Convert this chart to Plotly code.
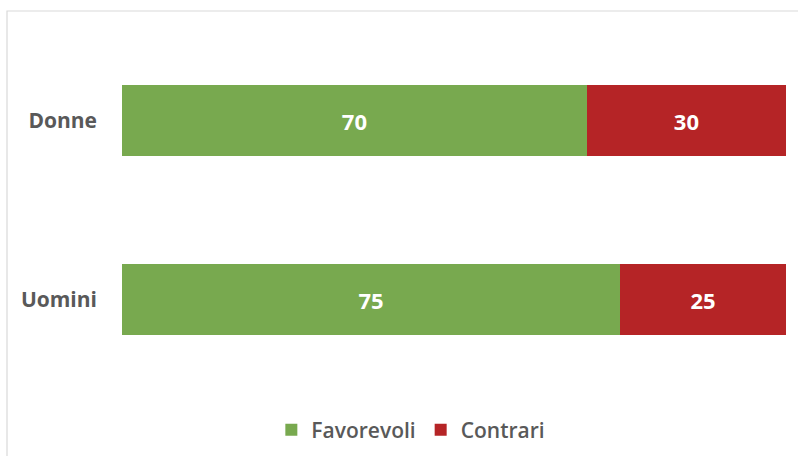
import plotly.graph_objects as go

categories = ["Uomini", "Donne"]
favorevoli = [75, 70]
contrari = [25, 30]

GREEN = "#78a94f"
RED = "#b52426"
GRAY = "#595959"
FONT = "Open Sans"

fig = go.Figure()
fig.add_trace(go.Bar(
    y=categories, x=favorevoli, name="Favorevoli", orientation="h",
    marker=dict(color=GREEN, line=dict(width=0)),
    text=favorevoli, textposition="inside", insidetextanchor="middle",
    textfont=dict(color="white", size=22, family=FONT, weight="bold"),
))
fig.add_trace(go.Bar(
    y=categories, x=contrari, name="Contrari", orientation="h",
    marker=dict(color=RED, line=dict(width=0)),
    text=contrari, textposition="inside", insidetextanchor="middle",
    textfont=dict(color="white", size=22, family=FONT, weight="bold"),
))

fig.update_layout(
    barmode="stack",
    bargap=0.603,
    width=798, height=456,
    margin=dict(l=122, r=12, t=31, b=67, autoexpand=False),
    paper_bgcolor="white", plot_bgcolor="white",
    font=dict(family=FONT, color=GRAY),
    uniformtext=dict(mode=False),
    legend=dict(
        orientation="h", x=0.435, xanchor="center", y=-0.115, yanchor="middle",
        font=dict(size=21, color=GRAY, family=FONT, weight=600),
        traceorder="normal", itemwidth=30,
    ),
    xaxis=dict(range=[0, 100], visible=False, fixedrange=True),
    yaxis=dict(
        range=[-0.5, 1.5], showgrid=False, zeroline=False, showline=False,
        ticks="", ticklabelstandoff=24,
        tickfont=dict(size=21, color=GRAY, family=FONT, weight="bold"),
    ),
    shapes=[dict(
        type="rect", xref="paper", yref="paper",
        x0=(7 - 122) / 664, x1=(820 - 122) / 664,
        y0=(389 - 470) / 358, y1=(389 - 11) / 358,
        line=dict(color="#d9d9d9", width=1.2), fillcolor="rgba(0,0,0,0)",
        layer="below",
    )],
)

fig.write_html("out.html")
